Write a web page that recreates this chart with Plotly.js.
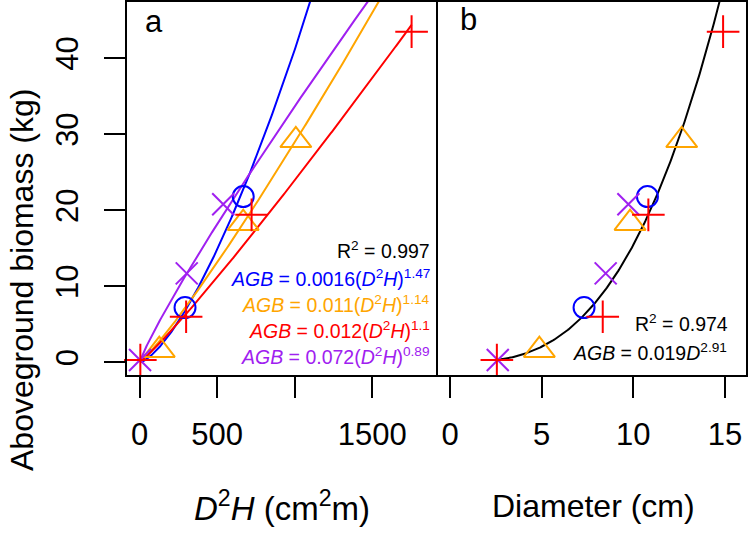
<!DOCTYPE html>
<html>
<head>
<meta charset="utf-8">
<script src="https://cdn.plot.ly/plotly-3.0.1.min.js"></script>
<style>html,body{margin:0;padding:0;background:#fff;}#chart{width:750px;height:534px;}</style>
</head>
<body>
<div id="chart"></div>
<script>
// ---- data ----
// species groups: red (+), orange (triangle), blue (circle), purple (x)
const redD2H    = [5, 300, 722, 1753];
const redD      = [2.55, 8.33, 10.82, 14.9];
const redAGB    = [0.3, 6.0, 19.4, 43.5];

const orangeD2H = [127, 668, 1007];
const orangeD   = [4.87, 9.82, 12.64];
const orangeAGB = [1.6, 18.3, 29.2];

const blueD2H   = [293, 668];
const blueD     = [7.31, 10.77];
const blueAGB   = [7.2, 21.8];

const purpleD2H = [3, 304, 539];
const purpleD   = [2.6, 8.49, 9.73];
const purpleAGB = [0.3, 11.7, 20.8];

// fitted allometric equations shown on the chart: AGB = a * X^b
const fitNames  = ['blue', 'orange', 'red', 'purple'];
const fitA      = [0.0016, 0.011, 0.012, 0.072];
const fitB      = [1.47, 1.14, 1.1, 0.89];
const fitTexts  = [
  '<i>AGB</i> = 0.0016(<i>D</i><sup>2</sup><i>H</i>)<sup>1.47</sup>',
  '<i>AGB</i> = 0.011(<i>D</i><sup>2</sup><i>H</i>)<sup>1.14</sup>',
  '<i>AGB</i> = 0.012(<i>D</i><sup>2</sup><i>H</i>)<sup>1.1</sup>',
  '<i>AGB</i> = 0.072(<i>D</i><sup>2</sup><i>H</i>)<sup>0.89</sup>'
];
const r2A = 'R<sup>2</sup> = 0.997';
const allA = 0.019, allB = 2.91;
const r2B = 'R<sup>2</sup> = 0.974';
const eqB = '<i>AGB</i> = 0.019<i>D</i><sup>2.91</sup>';

const xTickValsA = [0, 500, 1000, 1500];
const xTickTextA = ['0', '500', '', '1500'];
const xTickValsB = [0, 5, 10, 15];
const xTickTextB = ['0', '5', '10', '15'];
const yTickVals  = [0, 10, 20, 30, 40];
const yTickText  = ['0', '10', '20', '30', '40'];

// ---- styling ----
const COL = {red: '#FF0000', orange: '#FFA500', blue: '#0000FF', purple: '#A020F0', black: '#000000'};
const FONT = 'Liberation Sans, Arial, Helvetica, sans-serif';

function curve(a, b, x0, x1, n) {
  const xs = [], ys = [];
  for (let i = 0; i <= n; i++) {
    const x = x0 + (x1 - x0) * i / n;
    xs.push(x); ys.push(a * Math.pow(x, b));
  }
  return {x: xs, y: ys};
}

const allD2H = redD2H.concat(orangeD2H, blueD2H, purpleD2H);
const allD   = redD.concat(orangeD, blueD, purpleD);
const d2hMin = Math.min(...allD2H), d2hMax = Math.max(...allD2H);
const dMin = Math.min(...allD), dMax = Math.max(...allD);

const traces = [];
fitNames.forEach((nm, i) => {
  const c = curve(fitA[i], fitB[i], d2hMin, d2hMax, 300);
  traces.push({x: c.x, y: c.y, mode: 'lines', line: {color: COL[nm], width: 2}, xaxis: 'x', yaxis: 'y', hoverinfo: 'skip'});
});
const cb = curve(allA, allB, dMin, dMax, 300);
traces.push({x: cb.x, y: cb.y, mode: 'lines', line: {color: COL.black, width: 2}, xaxis: 'x2', yaxis: 'y2', hoverinfo: 'skip'});

const mk = {
  red:    {symbol: 'cross-thin-open', size: 23.3},
  orange: {symbol: 'triangle-up-open', size: 27},
  blue:   {symbol: 'circle-open', size: 21},
  purple: {symbol: 'x-thin-open', size: 22}
};
const series = [
  ['blue', blueD2H, blueD, blueAGB],
  ['orange', orangeD2H, orangeD, orangeAGB],
  ['purple', purpleD2H, purpleD, purpleAGB],
  ['red', redD2H, redD, redAGB]
];
series.forEach(([nm, xa, xb, y]) => {
  const m = {symbol: mk[nm].symbol, size: mk[nm].size, color: COL[nm], line: {color: COL[nm], width: 2}};
  traces.push({x: xa, y: y, mode: 'markers', marker: m, xaxis: 'x', yaxis: 'y', cliponaxis: false});
  traces.push({x: xb, y: y, mode: 'markers', marker: m, xaxis: 'x2', yaxis: 'y2', cliponaxis: false});
});

// plot box in pixels: left 127, right 746, top 2, bottom 375
const L = 127, R = 746, T = 2, B = 375, W = 750, H = 534;
const split = (437.5 - L) / (R - L);
const px = v => (v - L) / (R - L);
const py = v => (B - v) / (B - T);

const axCommon = {
  showline: true, mirror: true, linecolor: '#000', linewidth: 2,
  ticks: 'outside', ticklen: 21, tickwidth: 2, tickcolor: '#000',
  showgrid: false, zeroline: false,
  tickfont: {family: FONT, size: 31, color: '#000'}
};

const annotations = [
  {text: 'a', x: px(154), y: py(21), xref: 'paper', yref: 'paper', showarrow: false, xanchor: 'center', yanchor: 'middle', font: {family: FONT, size: 31, color: '#000'}},
  {text: 'b', x: px(468), y: py(19), xref: 'paper', yref: 'paper', showarrow: false, xanchor: 'center', yanchor: 'middle', font: {family: FONT, size: 31, color: '#000'}},
  {text: r2A, x: px(432), y: py(250), xref: 'paper', yref: 'paper', showarrow: false, xanchor: 'right', yanchor: 'middle', font: {family: FONT, size: 19.5, color: '#000'}},
  {text: r2B, x: px(730), y: py(323), xref: 'paper', yref: 'paper', showarrow: false, xanchor: 'right', yanchor: 'middle', font: {family: FONT, size: 19.5, color: '#000'}},
  {text: eqB, x: px(729), y: py(352), xref: 'paper', yref: 'paper', showarrow: false, xanchor: 'right', yanchor: 'middle', font: {family: FONT, size: 19.5, color: '#000'}},
  {text: '<i>D</i><sup>2</sup><i>H</i> (cm<sup>2</sup>m)', x: px(282), y: py(506), xref: 'paper', yref: 'paper', showarrow: false, xanchor: 'center', yanchor: 'middle', font: {family: FONT, size: 33, color: '#000'}},
  {text: 'Diameter (cm)', x: px(593), y: py(506), xref: 'paper', yref: 'paper', showarrow: false, xanchor: 'center', yanchor: 'middle', font: {family: FONT, size: 32, color: '#000'}},
  {text: 'Aboveground biomass (kg)', x: px(22), y: py(280), xref: 'paper', yref: 'paper', showarrow: false, xanchor: 'center', yanchor: 'middle', textangle: -90, font: {family: FONT, size: 32, color: '#000'}}
];
const eqY = [278, 304, 330, 356];
fitTexts.forEach((t, i) => {
  annotations.push({text: t, x: px(432), y: py(eqY[i]), xref: 'paper', yref: 'paper', showarrow: false, xanchor: 'right', yanchor: 'middle', font: {family: FONT, size: 19.5, color: COL[fitNames[i]]}});
});

const layout = {
  width: W, height: H,
  margin: {l: L, r: W - R, t: T, b: H - B, pad: 0},
  paper_bgcolor: '#fff', plot_bgcolor: '#fff',
  showlegend: false,
  xaxis: Object.assign({}, axCommon, {domain: [0, split], range: [-81, 1920], tickvals: xTickValsA, ticktext: xTickTextA, anchor: 'y', ticklabelstandoff: 10}),
  xaxis2: Object.assign({}, axCommon, {domain: [split, 1], range: [-0.69, 16.15], tickvals: xTickValsB, ticktext: xTickTextB, anchor: 'y2', ticklabelstandoff: 10}),
  yaxis: Object.assign({}, axCommon, {domain: [0, 1], range: [-1.67, 47.4], tickvals: yTickVals, ticktext: yTickText, tickangle: -90, anchor: 'x', mirror: false, ticklabelstandoff: 14}),
  yaxis2: Object.assign({}, axCommon, {domain: [0, 1], range: [-1.67, 47.4], matches: 'y', showticklabels: false, ticks: '', anchor: 'x2'}),
  annotations: annotations
};

Plotly.newPlot('chart', traces, layout, {staticPlot: true, displayModeBar: false});
</script>
</body>
</html>
